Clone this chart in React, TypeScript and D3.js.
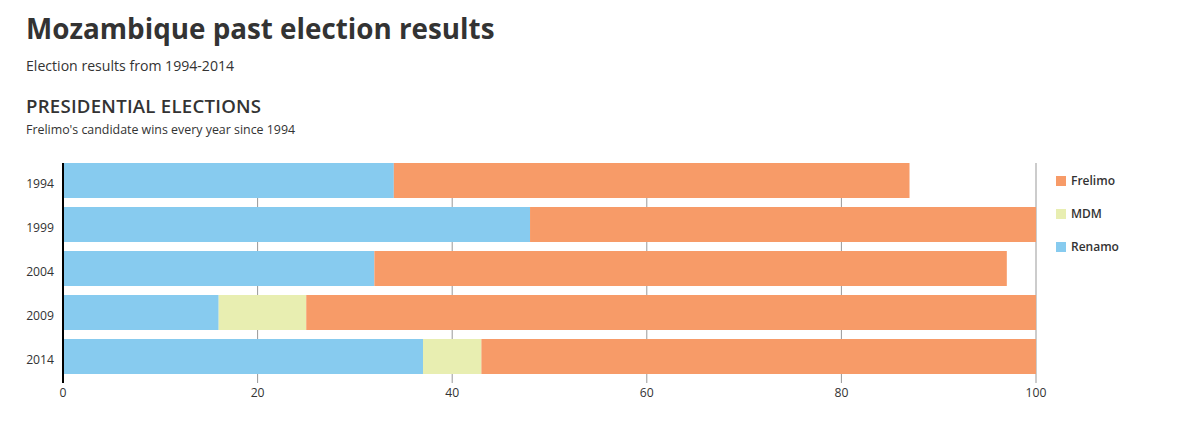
import React from "react";
import * as d3 from "d3";

const years = ["1994", "1999", "2004", "2009", "2014"];
const renamo = [34, 48, 32, 16, 37];
const mdm = [0, 0, 0, 9, 6];
const frelimo = [53, 52, 65, 75, 57];
const xTicks = [0, 20, 40, 60, 80, 100];
const seriesNames = ["Renamo", "MDM", "Frelimo"];
const legendOrder = ["Frelimo", "MDM", "Renamo"];
const colors: Record<string, string> = {
  Renamo: "#87cbef",
  MDM: "#e8eeb1",
  Frelimo: "#f79b68",
};

const W = 1180;
const H = 422;
const left = 63;
const right = 1036;
const top = 163;
const bandBottom = 374;
const bottom = 383;
const font = "'Open Sans', sans-serif";

export default function App() {
  const x = d3.scaleLinear().domain([0, 100]).range([left, right]);
  const y = d3
    .scaleBand<string>()
    .domain(years)
    .range([top, bandBottom])
    .paddingInner(9 / 44)
    .paddingOuter(0);
  const rows = years.map((yr, i) => ({
    year: yr,
    Renamo: renamo[i],
    MDM: mdm[i],
    Frelimo: frelimo[i],
  }));
  const stack = d3.stack<any>().keys(seriesNames)(rows);

  return (
    <svg
      width={W}
      height={H}
      style={{ position: "absolute", left: 0, top: 0, background: "#fff" }}
      fontFamily={font}
    >
      <text x={26} y={39} fontSize={27.8} fontWeight={700} fill="#333">
        Mozambique past election results
      </text>
      <text x={26} y={71} fontSize={14.1} fill="#333">
        Election results from 1994-2014
      </text>
      <text x={26} y={113} fontSize={18.6} fontWeight={600} fill="#333" letterSpacing={0.25}>
        PRESIDENTIAL ELECTIONS
      </text>
      <text x={26} y={134} fontSize={12.4} fill="#333">
        Frelimo's candidate wins every year since 1994
      </text>

      {xTicks.slice(1).map((t) => (
        <line
          key={t}
          x1={x(t)}
          x2={x(t)}
          y1={top}
          y2={bottom}
          stroke={t === 100 ? "#cccccc" : "#999999"}
          strokeWidth={t === 100 ? 2 : 1}
        />
      ))}

      {stack.map((s) => (
        <g key={s.key} fill={colors[s.key]}>
          {s.map((d, i) => (
            <rect
              key={i}
              x={x(d[0])}
              y={y(years[i])}
              width={Math.max(0, x(d[1]) - x(d[0]))}
              height={y.bandwidth()}
            />
          ))}
        </g>
      ))}

      <line x1={left} x2={left} y1={top} y2={bottom} stroke="#000" strokeWidth={2} />

      {years.map((yr) => (
        <text
          key={yr}
          x={54}
          y={(y(yr) as number) + y.bandwidth() / 2 + 3.5}
          dy="0.35em"
          textAnchor="end"
          fontSize={12.2}
          fill="#333"
        >
          {yr}
        </text>
      ))}

      {xTicks.map((t) => (
        <text key={t} x={x(t)} y={396.5} textAnchor="middle" fontSize={12.2} fill="#333">
          {t}
        </text>
      ))}

      {legendOrder.map((name, i) => (
        <g key={name} transform={`translate(1056, ${176 + i * 33})`}>
          <rect width={10} height={10} fill={colors[name]} />
          <text x={15} y={5} dy="0.35em" fontSize={12} fontWeight={600} fill="#333">
            {name}
          </text>
        </g>
      ))}
    </svg>
  );
}
